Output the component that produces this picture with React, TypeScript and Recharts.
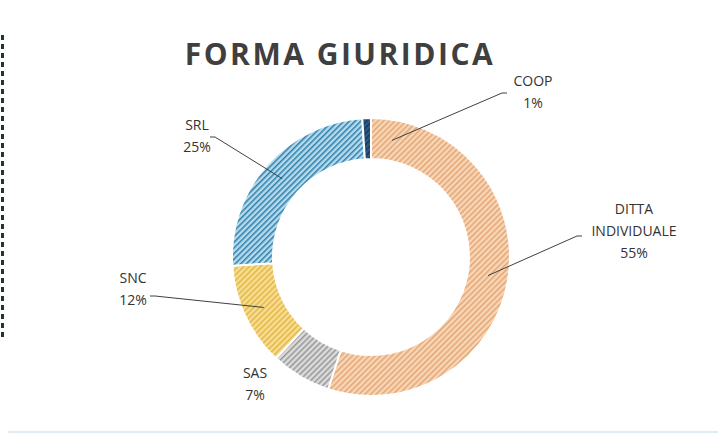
import React from "react";
import { Cell, Pie, PieChart } from "recharts";

const categories = ["DITTA INDIVIDUALE", "SAS", "SNC", "SRL", "COOP"];
const shares = [55, 7, 12, 25, 1];

const data = categories.map((name, i) => ({ name, value: shares[i] }));

// hatch look per slice: background + stripe colour
const fills: Record<string, { bg: string; stripe: string; id: string }> = {
  "DITTA INDIVIDUALE": { bg: "#f8d6b6", stripe: "#e3a574", id: "hatch-ditta" },
  SAS: { bg: "#dcdcdc", stripe: "#969696", id: "hatch-sas" },
  SNC: { bg: "#f9de90", stripe: "#e0b548", id: "hatch-snc" },
  SRL: { bg: "#b4dbee", stripe: "#2f7ea8", id: "hatch-srl" },
  COOP: { bg: "#2a5a86", stripe: "#17385a", id: "hatch-coop" },
};

// where each label sits, relative to the pie centre
const labelSpots: Record<string, { dx: number; dy: number; lx?: number; ly?: number }> = {
  "DITTA INDIVIDUALE": { dx: 263, dy: -43, lx: 206, ly: -21 },
  SAS: { dx: -116, dy: 121 },
  SNC: { dx: -238, dy: 26, lx: -216, ly: 39 },
  SRL: { dx: -174, dy: -127, lx: -156, ly: -120 },
  COOP: { dx: 162, dy: -171, lx: 131, ly: -164 },
};

const RAD = Math.PI / 180;

function SliceLabel(props: any) {
  const { cx, cy, midAngle, innerRadius, outerRadius, name, value } = props;
  const spot = labelSpots[name];
  if (!spot) return null;
  const r = (innerRadius + outerRadius) / 2;
  let ang = midAngle;
  if (name === "COOP") ang = midAngle - 12; // excel pulls this one into the next slice
  const sx = cx + r * Math.cos(-ang * RAD);
  const sy = cy + r * Math.sin(-ang * RAD);
  const lines = name.split(" ").concat([`${value}%`]);
  return (
    <g>
      {spot.lx !== undefined && (
        <polyline
          points={`${sx},${sy} ${cx + spot.lx},${cy + spot.ly} ${cx + spot.lx + (spot.lx > 0 ? 5 : -5)},${cy + spot.ly}`}
          fill="none"
          stroke="#404040"
          strokeWidth={1}
        />
      )}
      <text
        x={cx + spot.dx}
        y={cy + spot.dy}
        textAnchor="middle"
        fontFamily="Open Sans, sans-serif"
        fontSize={14}
        fill="#333333"
      >
        {lines.map((t: string, i: number) => (
          <tspan key={i} x={cx + spot.dx} dy={i === 0 ? 0 : 22}>
            {t}
          </tspan>
        ))}
      </text>
    </g>
  );
}

export default function App() {
  return (
    <div
      style={{
        position: "absolute",
        left: 0,
        top: 0,
        width: 718,
        height: 437,
        background: "#ffffff",
        overflow: "hidden",
      }}
    >
      <PieChart width={718} height={437}>
        <defs>
          {categories.map((c) => (
            <pattern
              key={c}
              id={fills[c].id}
              width={4}
              height={4}
              patternUnits="userSpaceOnUse"
              patternTransform="rotate(45)"
            >
              <rect width={4} height={4} fill={fills[c].bg} />
              <rect width={1.5} height={4} fill={fills[c].stripe} />
            </pattern>
          ))}
        </defs>
        <Pie
          data={data}
          dataKey="value"
          nameKey="name"
          cx={366}
          cy={252}
          innerRadius={98}
          outerRadius={139}
          startAngle={90}
          endAngle={-270}
          stroke="#ffffff"
          strokeWidth={2}
          label={SliceLabel}
          labelLine={false}
          isAnimationActive={false}
        >
          {data.map((d) => (
            <Cell key={d.name} fill={`url(#${fills[d.name].id})`} />
          ))}
        </Pie>
      </PieChart>
      <div
        style={{
          position: "absolute",
          left: 0,
          width: 680,
          top: 33,
          textAlign: "center",
          fontFamily: "Open Sans, sans-serif",
          fontWeight: 700,
          fontSize: 30,
          letterSpacing: 2.5,
          color: "#3f3f3f",
        }}
      >
        FORMA GIURIDICA
      </div>
      <div
        style={{
          position: "absolute",
          left: 1,
          top: 35,
          width: 3,
          height: 305,
          backgroundImage: "repeating-linear-gradient(#1e3a2a 0 5px, transparent 5px 9px)",
        }}
      />
      <div
        style={{
          position: "absolute",
          left: 8,
          width: 710,
          top: 431,
          height: 2,
          background: "#e2edf3",
        }}
      />
    </div>
  );
}
